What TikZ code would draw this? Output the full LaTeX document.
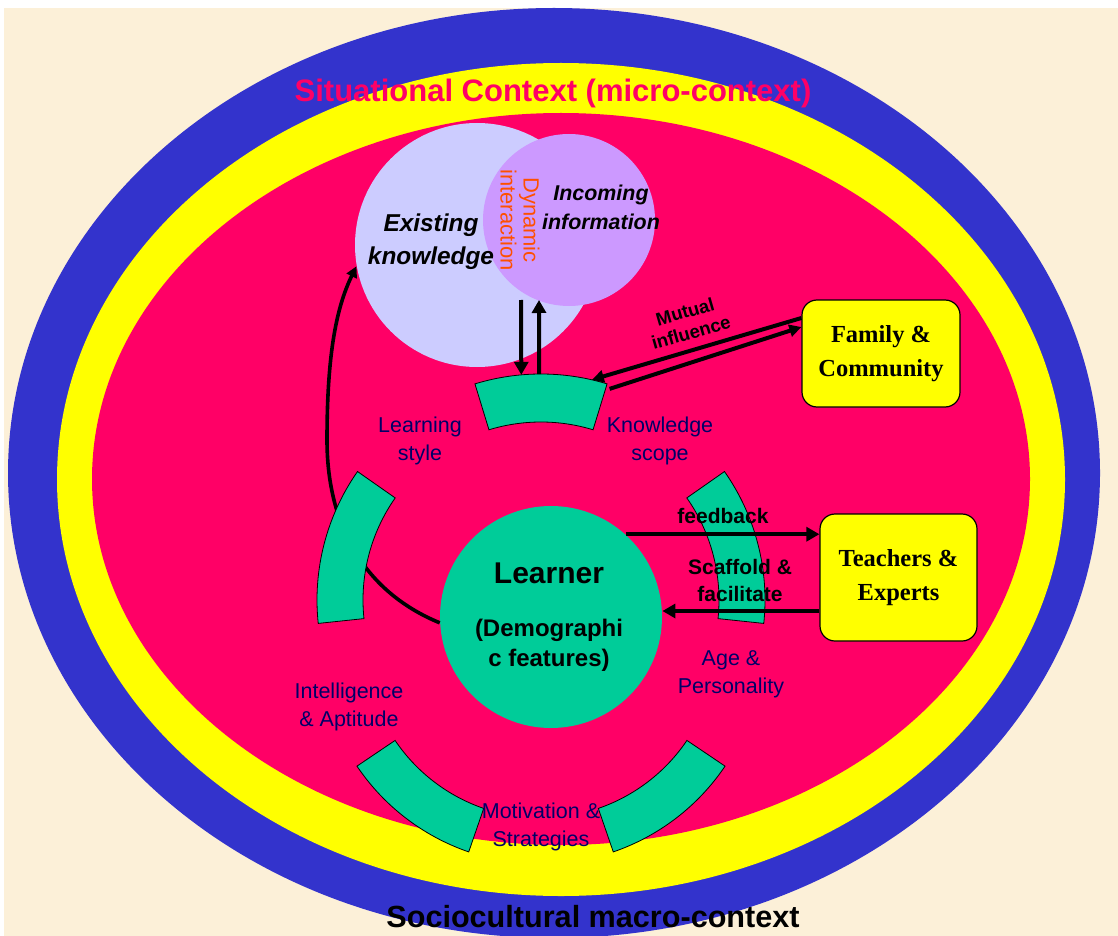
\documentclass[tikz,border=0pt]{standalone}
\usepackage{fontspec}
\setmainfont{Liberation Sans}
\newfontfamily\timesfont{Liberation Serif}
\usetikzlibrary{arrows, arrows.meta}
\usetikzlibrary{calc}
\usetikzlibrary{shapes.geometric}

\definecolor{bgbeige}{RGB}{252,240,216}
\definecolor{ringblue}{RGB}{51,51,204}
\definecolor{ringyellow}{RGB}{255,255,0}
\definecolor{ringred}{RGB}{255,0,102}
\definecolor{lavender}{RGB}{204,204,255}
\definecolor{lilac}{RGB}{204,153,255}
\definecolor{seagreen}{RGB}{0,204,153}
\definecolor{labelnavy}{RGB}{0,0,102}
\definecolor{dynorange}{RGB}{255,80,0}

% green ring piece: centre, start angle, end angle, inner radius, outer radius
\newcommand{\greenseg}[5]{%
  \filldraw[seg] ($#1+(#2:#5)$) arc[start angle=#2, end angle=#3, radius=#5]
    -- ($#1+(#3:#4)$) arc[start angle=#3, end angle=#2, radius=#4] -- cycle;}

\begin{document}
\begin{tikzpicture}[x=0.5pt, y=-0.5pt,
    seg/.style={fill=seagreen, draw=black, line width=0.4pt},
    factor/.style={text=labelnavy, align=center, font=\fontsize{10.75}{14}\selectfont},
    arrowline/.style={line width=2pt, -{Triangle[length=6.5pt, width=7pt]}},
    kbox/.style={draw=black, line width=0.6pt, fill=ringyellow, rounded corners=7.5pt,
      align=center, font=\timesfont\bfseries\fontsize{12.25}{17}\selectfont},
    flowlabel/.style={align=center, font=\bfseries\fontsize{10.5}{13.5}\selectfont}]
    \useasboundingbox (0,0) rectangle (1118,936);

    % background and context rings
    \fill[white] (0,0) rectangle (1118,936);
    \fill[bgbeige] (4,8) rectangle (1118,936);
    \fill[ringblue] (554,473) ellipse [x radius=546, y radius=465];
    \fill[ringyellow] (561,479.5) ellipse [x radius=504, y radius=416.5];
    \fill[ringred] (561,479) ellipse [x radius=469, y radius=366];

    \node[text=ringred, font=\bfseries\fontsize{15.5}{18}\selectfont] (micro) at (553,93) {Situational Context (micro-context)};
    \node[font=\bfseries\fontsize{15.3}{18}\selectfont] (macro) at (593,917) {Sociocultural macro-context};

    % knowledge circles and learner
    \node[circle, fill=lavender, inner sep=0pt, minimum size=122pt] (existing) at (477,245) {};
    \node[circle, fill=lilac, inner sep=0pt, minimum size=86pt] (incoming) at (569,220) {};
    \node[circle, fill=seagreen, inner sep=0pt, minimum size=111pt] (learner) at (551,617) {};

    \draw[line width=1.8pt, -{Triangle[length=5.5pt, width=5.5pt]}] (learner.183)
      .. controls (360,590) and (327,520) .. (327,440)
      .. controls (327,360) and (335,310) .. (existing.190);

    % learner factors
    \greenseg{(541,600)}{-107}{-73}{178}{226}
    \greenseg{(541,600)}{174}{215}{178}{224}
    \greenseg{(541,600)}{-35}{6}{178}{224}
    \greenseg{(541,642)}{109}{146}{176}{222}
    \greenseg{(541,642)}{34}{71}{176}{222}

    \node[factor] (style) at (420,441) {Learning\\style};
    \node[factor] (scope) at (660,441) {Knowledge\\scope};
    \node[factor] (intel) at (349,707) {Intelligence\\\& Aptitude};
    \node[factor] (age) at (731,674) {Age \&\\Personality};
    \node[factor] (motiv) at (541,827) {Motivation \&\\Strategies};

    % texts
    \node[align=center, font=\bfseries\itshape\fontsize{12.2}{16.5}\selectfont] (existingText) at (431,242) {Existing\\knowledge};
    \node[align=center, font=\bfseries\itshape\fontsize{10.7}{14.5}\selectfont] (incomingText) at (601,207) {Incoming\\information};
    \node[rotate=-90, align=center, text=dynorange, font=\fontsize{11}{11.5}\selectfont] (dynamic) at (520,220) {Dynamic\\interaction};
    \node[font=\bfseries\fontsize{15}{18}\selectfont] (learnerName) at (549,573) {Learner};
    \node[align=center, font=\bfseries\fontsize{12}{15}\selectfont] (demo) at (549,645) {(Demographi\\c features)};

    % outside agents
    \node[kbox, minimum width=79pt, minimum height=53.5pt] (family) at (881,353.5) {Family \&\\Community};
    \node[kbox, minimum width=78.5pt, minimum height=63.5pt] (teachers) at (898.5,577.5) {Teachers \&\\Experts};

    % arrows
    \coordinate (downStart) at (521,300);
    \coordinate (downEnd) at ($(541,600)+(-95:226)$);
    \coordinate (upEnd) at (539,300);
    \coordinate (upStart) at ($(541,600)+(-90.5:226)$);
    \draw[arrowline] (downStart) -- (downEnd);
    \draw[arrowline] (upStart) -- (upEnd);

    \coordinate (mutualIn) at ($(541,600)+(-77:226)$);
    \coordinate (mutualOut) at ($(541,600)+(-72:222)$);
    \draw[line width=2pt, -{Triangle[length=6pt, width=6pt]}] ([yshift=17.75pt]family.west) -- (mutualIn);
    \draw[line width=2pt, -{Triangle[length=6pt, width=6pt]}] (mutualOut) -- ([yshift=13.25pt]family.west);
    \node[rotate=16, align=center, font=\bfseries\fontsize{9.25}{10.75}\selectfont] (mutual) at (688,322) {Mutual\\influence};

    \draw[arrowline] (learner.48) -- (learner.48 -| teachers.west);
    \coordinate (scafStart) at ([yshift=-16.75pt]teachers.west);
    \draw[arrowline] (scafStart) -- (scafStart -| learner.east);
    \node[flowlabel] (feedback) at (723,516) {feedback};
    \node[flowlabel] (scaffold) at (740,580) {Scaffold \&\\facilitate};
\end{tikzpicture}
\end{document}
